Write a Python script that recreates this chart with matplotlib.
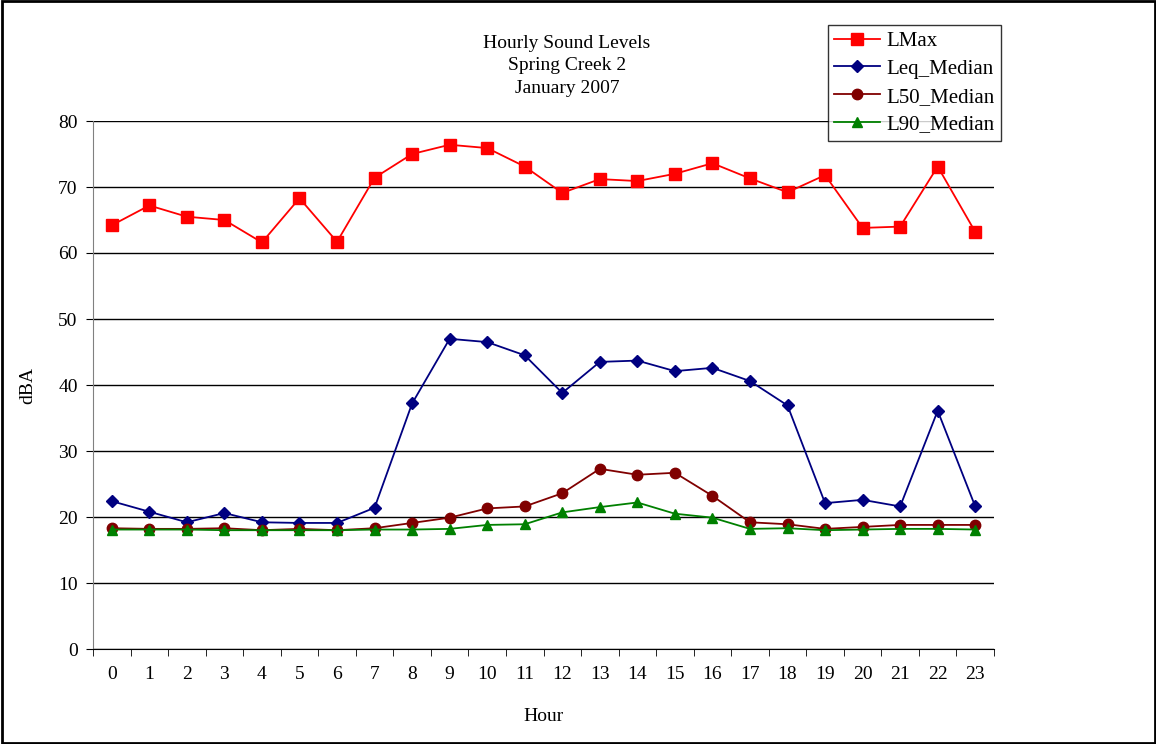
import matplotlib
matplotlib.use("Agg")
import matplotlib.pyplot as plt
from matplotlib.patches import Rectangle

plt.rcParams['font.family'] = ['Liberation Serif', 'DejaVu Serif']

hours = list(range(24))
lmax = [64.2, 67.2, 65.5, 65.0, 61.6, 68.3, 61.7, 71.4, 75.0, 76.4, 75.9, 73.1,
        69.1, 71.2, 70.9, 72.0, 73.6, 71.3, 69.2, 71.8, 63.8, 64.0, 73.1, 63.2]
leq_median = [22.4, 20.8, 19.2, 20.6, 19.2, 19.1, 19.1, 21.4, 37.2, 47.0, 46.5, 44.5,
              38.8, 43.5, 43.7, 42.1, 42.6, 40.6, 36.9, 22.1, 22.6, 21.6, 36.1, 21.6]
l50_median = [18.3, 18.2, 18.2, 18.3, 18.0, 18.2, 18.0, 18.3, 19.1, 19.9, 21.3, 21.6,
              23.6, 27.3, 26.4, 26.7, 23.2, 19.2, 18.9, 18.2, 18.5, 18.8, 18.8, 18.8]
l90_median = [18.1, 18.1, 18.1, 18.0, 18.0, 18.0, 18.0, 18.1, 18.1, 18.2, 18.8, 18.9,
              20.7, 21.5, 22.2, 20.5, 19.9, 18.2, 18.3, 18.0, 18.1, 18.2, 18.2, 18.1]

fig = plt.figure(figsize=(11.56, 7.44), dpi=100)
ax = fig.add_axes([93 / 1156, 1 - 649 / 744, (994 - 93) / 1156, (649 - 121) / 744])

# outer frame
fig.patches.append(Rectangle((0.002, 0.001), 0.997, 0.998, transform=fig.transFigure,
                             fill=False, edgecolor='black', linewidth=2))

ax.plot(hours, lmax, color='#ff0000', marker='s', markersize=8, linewidth=1.3, label='LMax')
ax.plot(hours, leq_median, color='#000080', marker='D', markersize=6, linewidth=1.3, label='Leq_Median')
ax.plot(hours, l50_median, color='#800000', marker='o', markersize=7.5, linewidth=1.3, label='L50_Median')
ax.plot(hours, l90_median, color='#008000', marker='^', markersize=7.5, linewidth=1.3, label='L90_Median')

ax.set_xlim(-0.5, 23.5)
ax.set_ylim(0, 80)
ax.set_yticks(range(0, 81, 10))
ax.yaxis.grid(True, color='black', linewidth=1)
ax.set_axisbelow(True)
ax.set_xticks(hours)
ax.set_xticks([h - 0.5 for h in range(25)], minor=True)
ax.tick_params(axis='x', which='major', length=0, pad=12, labelsize=14)
ax.tick_params(axis='x', which='minor', length=5, color='black')
ax.tick_params(axis='y', length=5, labelsize=14, pad=6)
for s in ['top', 'right']:
    ax.spines[s].set_visible(False)
ax.spines['left'].set_color('#808080')
ax.spines['bottom'].set_color('black')

ax.set_xlabel('Hour', fontsize=14, labelpad=18)
ax.set_ylabel('dBA', fontsize=14, labelpad=16)

fig.text(567 / 1156, 1 - 66 / 744, 'Hourly Sound Levels\nSpring Creek 2\nJanuary 2007',
         ha='center', va='center', fontsize=14, linespacing=1.4)

leg = fig.legend(loc='upper left', bbox_to_anchor=(828 / 1156, 1 - 25 / 744), fontsize=15,
                 frameon=True, fancybox=False, edgecolor='black', handlelength=2.2,
                 handletextpad=0.3, labelspacing=0.4, borderpad=0.3, borderaxespad=0)
leg.get_frame().set_linewidth(1)

fig.savefig('out.png', dpi=100)
